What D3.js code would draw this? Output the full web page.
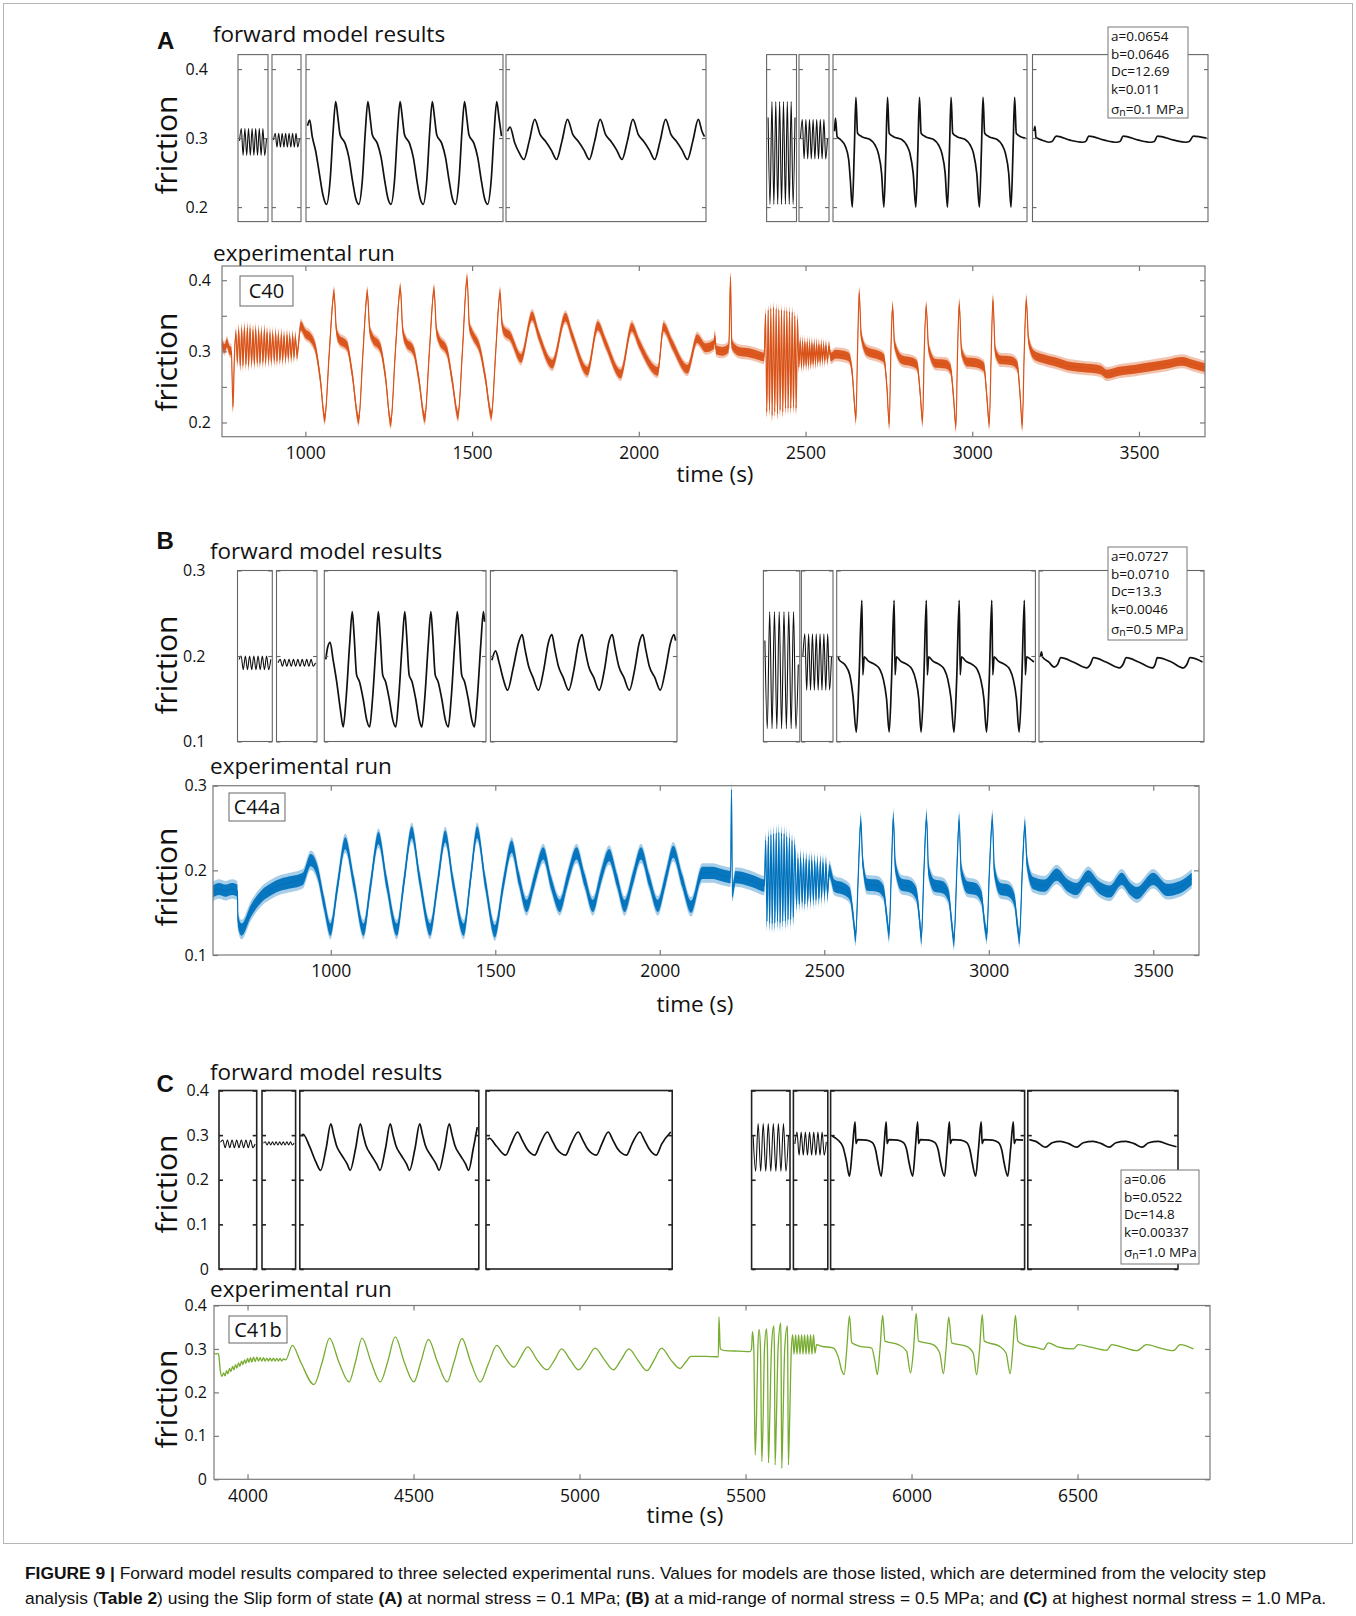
<!DOCTYPE html>
<html>
<head>
<meta charset="utf-8">
<script src="https://cdn.jsdelivr.net/npm/d3@7"></script>
<style>
body { margin: 0; background: #fff; }
svg text { font-family: "Open Sans", sans-serif; fill: #111; }
</style>
</head>
<body>
<svg id="fig" width="1356" height="1616"></svg>
<script>

// ---------- data : forward model traces (friction), one array per sub-box ----------
// plain arrays = equally spaced samples, pairs = [model time (box units), friction]

var modelA1 = [0.296, 0.314, 0.275, 0.314, 0.275, 0.314, 0.275, 0.314, 0.275, 0.314, 0.275, 0.314, 0.275, 0.314, 0.275, 0.300];
var modelA2 = [0.297, 0.307, 0.287, 0.307, 0.287, 0.307, 0.287, 0.307, 0.287, 0.307, 0.287, 0.307, 0.287, 0.307, 0.287, 0.300];
var modelA3 = [[0,0.318],[6,0.326],[13,0.302],[22,0.282],[32,0.25],[42,0.218],[52,0.204],[62,0.24],[70,0.31],[77,0.353],[83,0.33],[89,0.305],[103,0.292],[113,0.272],[123,0.238],[132,0.212],[140,0.204],[150,0.24],[158,0.31],[165,0.353],[171,0.33],[177,0.305],[191,0.292],[201,0.272],[211,0.238],[220,0.212],[228,0.204],[238,0.24],[246,0.31],[253,0.353],[259,0.33],[265,0.305],[279,0.292],[289,0.272],[299,0.238],[308,0.212],[316,0.204],[326,0.24],[334,0.31],[341,0.353],[347,0.33],[353,0.305],[367,0.292],[377,0.272],[387,0.238],[396,0.212],[404,0.204],[414,0.24],[422,0.31],[429,0.353],[435,0.33],[441,0.305],[455,0.292],[465,0.272],[475,0.238],[484,0.212],[492,0.204],[502,0.24],[510,0.31],[517,0.353],[523,0.33],[530,0.303]];
var modelA4 = [[0,0.31],[7,0.316],[20,0.293],[32,0.279],[45,0.269],[60,0.296],[75,0.327],[90,0.305],[105,0.295],[120,0.283],[135,0.269],[150,0.296],[165,0.327],[180,0.305],[195,0.295],[210,0.283],[225,0.269],[240,0.296],[255,0.327],[270,0.305],[285,0.295],[300,0.283],[315,0.269],[330,0.296],[345,0.327],[360,0.305],[375,0.295],[390,0.283],[405,0.269],[420,0.296],[435,0.327],[450,0.305],[465,0.295],[480,0.283],[495,0.269],[510,0.296],[525,0.327],[535,0.31],[542,0.302]];
var modelA5 = [0.33, 0.204, 0.353, 0.204, 0.353, 0.204, 0.353, 0.204, 0.353, 0.204, 0.353, 0.204, 0.353, 0.204, 0.33];
var modelA6 = [0.30, 0.327, 0.27, 0.327, 0.27, 0.327, 0.27, 0.327, 0.27, 0.327, 0.27, 0.327, 0.27, 0.327, 0.27, 0.30];
var modelA7 = [[0,0.31],[3,0.329],[8,0.302],[18,0.298],[33,0.288],[43,0.269],[48,0.24],[54,0.2],[60,0.28],[65,0.359],[70,0.307],[83,0.302],[108,0.298],[123,0.29],[133,0.278],[143,0.249],[150,0.2],[156,0.28],[161,0.359],[166,0.307],[179,0.302],[204,0.298],[219,0.29],[229,0.278],[239,0.249],[247,0.2],[253,0.28],[258,0.359],[263,0.307],[276,0.302],[301,0.298],[316,0.29],[326,0.278],[336,0.249],[343,0.2],[349,0.28],[354,0.359],[359,0.307],[372,0.302],[397,0.298],[412,0.29],[422,0.278],[432,0.249],[440,0.2],[446,0.28],[451,0.359],[456,0.307],[469,0.302],[494,0.298],[509,0.29],[519,0.278],[529,0.249],[536,0.2],[542,0.28],[547,0.359],[552,0.307],[565,0.302],[580,0.3]];
var modelA8 = [[0,0.31],[3,0.317],[6,0.301],[25,0.297],[45,0.294],[55,0.295],[68,0.303],[110,0.297],[148,0.294],[158,0.295],[168,0.303],[215,0.297],[253,0.294],[263,0.295],[273,0.303],[320,0.297],[358,0.294],[368,0.295],[378,0.303],[428,0.297],[465,0.294],[475,0.295],[488,0.303],[528,0.3]];

var modelB1 = [0.196, 0.2, 0.184, 0.2, 0.184, 0.2, 0.184, 0.2, 0.184, 0.2, 0.184, 0.2, 0.184, 0.2, 0.184, 0.196];
var modelB2 = [0.192, 0.196, 0.188, 0.196, 0.188, 0.196, 0.188, 0.196, 0.188, 0.196, 0.188, 0.196, 0.188, 0.196, 0.188, 0.196, 0.188, 0.192];
var modelB3 = [[0,0.196],[5,0.21],[12,0.216],[20,0.196],[30,0.17],[40,0.138],[48,0.117],[56,0.15],[66,0.215],[73,0.252],[78,0.225],[85,0.178],[93,0.17],[103,0.15],[113,0.125],[121,0.117],[129,0.15],[139,0.215],[145,0.252],[150,0.225],[157,0.178],[165,0.17],[175,0.15],[185,0.125],[193,0.117],[201,0.15],[211,0.215],[218,0.252],[223,0.225],[230,0.178],[238,0.17],[248,0.15],[258,0.125],[265,0.117],[273,0.15],[283,0.215],[290,0.252],[295,0.225],[302,0.178],[310,0.17],[320,0.15],[330,0.125],[338,0.117],[346,0.15],[356,0.215],[363,0.252],[368,0.225],[375,0.178],[383,0.17],[393,0.15],[403,0.125],[410,0.117],[418,0.15],[428,0.215],[435,0.252],[438,0.24]];
var modelB4 = [[0,0.195],[10,0.206],[20,0.192],[32,0.172],[43,0.16],[58,0.185],[73,0.215],[83,0.225],[91,0.208],[101,0.188],[113,0.175],[128,0.16],[143,0.185],[155,0.215],[165,0.225],[173,0.208],[183,0.188],[196,0.175],[211,0.16],[226,0.185],[238,0.215],[248,0.225],[256,0.208],[266,0.188],[280,0.175],[295,0.16],[310,0.185],[321,0.215],[331,0.225],[339,0.208],[349,0.188],[363,0.175],[378,0.16],[393,0.185],[405,0.215],[415,0.225],[423,0.208],[433,0.188],[448,0.175],[463,0.16],[478,0.185],[491,0.215],[501,0.225],[505,0.218]];
var modelB5 = [0.218, 0.115, 0.252, 0.115, 0.252, 0.115, 0.252, 0.115, 0.252, 0.115, 0.252, 0.115, 0.252, 0.115, 0.19];
var modelB6 = [0.2, 0.226, 0.16, 0.226, 0.16, 0.226, 0.16, 0.226, 0.16, 0.226, 0.16, 0.226, 0.16, 0.226, 0.16, 0.2];
var modelB7 = [[0,0.2],[2,0.196],[20,0.19],[35,0.178],[45,0.153],[55,0.111],[63,0.17],[72,0.265],[75,0.178],[79,0.199],[92,0.194],[112,0.19],[127,0.184],[137,0.173],[147,0.15],[155,0.111],[162,0.17],[170,0.265],[173,0.178],[177,0.199],[190,0.194],[210,0.19],[225,0.184],[235,0.173],[245,0.15],[252,0.111],[260,0.17],[268,0.265],[271,0.178],[275,0.199],[288,0.194],[308,0.19],[323,0.184],[333,0.173],[343,0.15],[352,0.111],[360,0.17],[368,0.265],[371,0.178],[375,0.199],[388,0.194],[408,0.19],[423,0.184],[433,0.173],[443,0.15],[451,0.111],[459,0.17],[467,0.265],[470,0.178],[474,0.199],[487,0.194],[507,0.19],[522,0.184],[532,0.173],[542,0.15],[550,0.111],[558,0.17],[566,0.265],[569,0.178],[573,0.199],[585,0.196],[595,0.193]];
var modelB8 = [[0,0.2],[3,0.205],[6,0.199],[25,0.193],[42,0.187],[52,0.19],[62,0.198],[100,0.193],[142,0.186],[152,0.19],[162,0.198],[200,0.193],[242,0.186],[252,0.19],[262,0.198],[300,0.193],[342,0.186],[350,0.19],[357,0.198],[400,0.193],[437,0.186],[447,0.19],[457,0.198],[495,0.193]];

var modelC1 = [0.284, 0.289, 0.272, 0.289, 0.272, 0.289, 0.272, 0.289, 0.272, 0.289, 0.272, 0.289, 0.272, 0.289, 0.272, 0.28];
var modelC2 = [0.282, 0.285, 0.278, 0.285, 0.278, 0.285, 0.278, 0.285, 0.278, 0.285, 0.278, 0.285, 0.278, 0.285, 0.278, 0.285, 0.278, 0.282];
var modelC3 = [[0,0.298],[5,0.302],[23,0.274],[40,0.24],[53,0.221],[68,0.27],[81,0.325],[89,0.3],[96,0.278],[111,0.255],[126,0.235],[134,0.221],[149,0.27],[162,0.325],[170,0.3],[177,0.278],[192,0.255],[207,0.235],[216,0.221],[231,0.27],[244,0.325],[252,0.3],[259,0.278],[274,0.255],[289,0.235],[297,0.221],[312,0.27],[325,0.325],[333,0.3],[340,0.278],[355,0.255],[370,0.235],[378,0.221],[393,0.27],[406,0.325],[414,0.3],[421,0.278],[436,0.255],[451,0.235],[459,0.221],[472,0.27],[483,0.318]];
var modelC4 = [[0,0.29],[5,0.293],[25,0.275],[50,0.255],[65,0.28],[83,0.307],[95,0.29],[108,0.27],[120,0.259],[130,0.255],[145,0.28],[165,0.307],[177,0.29],[190,0.27],[203,0.259],[215,0.255],[230,0.28],[250,0.307],[262,0.29],[275,0.27],[288,0.259],[300,0.255],[315,0.28],[333,0.307],[345,0.29],[358,0.27],[371,0.259],[383,0.255],[398,0.28],[420,0.307],[432,0.29],[445,0.27],[456,0.259],[465,0.255],[480,0.28],[505,0.307]];
var modelC5 = [0.3, 0.219, 0.326, 0.219, 0.326, 0.219, 0.326, 0.219, 0.326, 0.219, 0.326, 0.219, 0.326, 0.219, 0.3];
var modelC6 = [0.28, 0.307, 0.255, 0.307, 0.255, 0.307, 0.255, 0.307, 0.255, 0.307, 0.255, 0.307, 0.255, 0.307, 0.255, 0.285];
var modelC7 = [[0,0.298],[18,0.289],[33,0.274],[43,0.244],[53,0.208],[62,0.27],[70,0.33],[73,0.281],[78,0.29],[105,0.289],[123,0.283],[133,0.266],[140,0.238],[150,0.208],[158,0.27],[165,0.33],[168,0.281],[173,0.29],[200,0.289],[218,0.283],[228,0.266],[235,0.238],[246,0.208],[254,0.27],[261,0.33],[264,0.281],[269,0.29],[296,0.289],[314,0.283],[324,0.266],[331,0.238],[343,0.208],[351,0.27],[358,0.33],[361,0.281],[366,0.29],[393,0.289],[411,0.283],[421,0.266],[428,0.238],[438,0.208],[447,0.27],[455,0.33],[458,0.281],[463,0.29],[490,0.289],[508,0.283],[518,0.266],[525,0.238],[536,0.208],[545,0.27],[553,0.33],[556,0.281],[561,0.29],[583,0.289]];
var modelC8 = [[0,0.29],[20,0.286],[50,0.273],[70,0.283],[95,0.286],[120,0.281],[145,0.273],[165,0.283],[195,0.286],[220,0.281],[245,0.273],[265,0.283],[295,0.286],[320,0.281],[345,0.273],[365,0.283],[395,0.286],[425,0.279],[450,0.274]];

// ---------- data : experimental runs [time (s), friction] ----------
var runC40 = [[750,0.31],[758,0.304],[765,0.312],[772,0.302],[778,0.3],[783,0.222],[787,0.29],
[792,0.325],[796,0.285],[800,0.33],[805,0.28],[809,0.332],[813,0.28],[817,0.333],[822,0.282],[826,0.333],[830,0.28],[834,0.332],[839,0.283],[843,0.33],[847,0.282],[851,0.331],[856,0.284],[860,0.33],[864,0.283],[868,0.328],[873,0.285],[877,0.33],[881,0.284],[885,0.327],[890,0.286],[894,0.326],[898,0.285],[902,0.325],[907,0.287],[911,0.326],[915,0.286],[919,0.324],[924,0.288],[928,0.324],[932,0.287],[936,0.322],[941,0.289],[945,0.323],[949,0.29],[953,0.321],[958,0.291],[962,0.322],[966,0.292],[970,0.32],[975,0.295],
[986,0.336],[1000,0.325],[1014,0.32],[1031,0.303],[1045,0.26],[1058,0.206],
[1072,0.3],[1086,0.382],[1093,0.33],[1100,0.318],[1125,0.308],[1140,0.27],[1160,0.204],
[1173,0.3],[1186,0.382],[1193,0.33],[1200,0.32],[1225,0.305],[1240,0.265],[1256,0.2],
[1270,0.3],[1285,0.388],[1292,0.33],[1300,0.315],[1325,0.3],[1340,0.262],[1358,0.206],
[1372,0.3],[1386,0.386],[1393,0.33],[1400,0.318],[1425,0.3],[1440,0.26],[1458,0.21],
[1471,0.3],[1485,0.402],[1492,0.335],[1500,0.325],[1525,0.3],[1540,0.262],[1558,0.21],
[1571,0.3],[1584,0.382],[1590,0.338],[1597,0.328],
[1613,0.322],[1647,0.29],[1680,0.35],[1700,0.322],[1741,0.282],[1780,0.348],[1800,0.322],[1846,0.272],[1877,0.336],[1900,0.312],[1946,0.268],[1979,0.334],[2000,0.312],[2057,0.272],[2074,0.334],[2100,0.31],[2146,0.275],[2175,0.318],[2200,0.305],[2226,0.31],[2228,0.322],[2232,0.302],[2250,0.3],[2270,0.305],[2275,0.404],[2279,0.31],[2300,0.3],[2330,0.298],[2360,0.294],[2376,0.292],
[2380,0.352],[2384,0.215],[2388,0.358],[2392,0.218],[2396,0.36],[2400,0.21],[2404,0.362],[2408,0.215],[2412,0.36],[2416,0.212],[2420,0.358],[2424,0.218],[2428,0.358],[2432,0.215],[2436,0.357],[2440,0.22],[2444,0.357],[2448,0.22],[2452,0.356],[2456,0.22],[2460,0.355],[2464,0.222],[2468,0.35],[2472,0.22],[2476,0.345],[2480,0.278],
[2484,0.314],[2488,0.278],[2491,0.314],[2495,0.279],[2498,0.313],[2502,0.28],[2505,0.313],[2509,0.28],[2512,0.312],[2516,0.281],[2519,0.312],[2523,0.282],[2526,0.311],[2530,0.283],[2533,0.311],[2537,0.284],[2540,0.31],[2544,0.285],[2547,0.31],[2551,0.286],[2554,0.309],[2558,0.287],[2561,0.308],[2566,0.288],[2570,0.307],[2576,0.292],
[2590,0.296],[2610,0.295],[2630,0.292],[2640,0.27],[2647,0.225],[2651,0.205],
[2656,0.3],[2661,0.382],[2667,0.322],[2684,0.3],[2710,0.296],[2735,0.29],[2744,0.25],[2751,0.198],
[2756,0.3],[2761,0.363],[2767,0.31],[2790,0.288],[2820,0.285],[2835,0.28],[2844,0.24],[2851,0.202],
[2856,0.3],[2862,0.362],[2869,0.305],[2890,0.283],[2920,0.282],[2935,0.275],[2944,0.235],[2951,0.195],
[2956,0.3],[2961,0.366],[2968,0.3],[2985,0.285],[3010,0.284],[3035,0.278],[3044,0.235],[3051,0.198],
[3057,0.3],[3062,0.372],[3069,0.3],[3085,0.288],[3115,0.287],[3135,0.28],[3144,0.235],[3150,0.196],
[3156,0.3],[3162,0.372],[3169,0.315],[3185,0.295],[3210,0.29],[3250,0.285],[3284,0.28],[3330,0.277],[3384,0.274],[3404,0.268],[3440,0.272],[3490,0.275],[3530,0.278],[3584,0.282],[3630,0.286],[3660,0.282],[3698,0.277]];

var runC44a = [[642,0.175],[660,0.178],[680,0.176],[700,0.178],[716,0.176],[718,0.14],[729,0.13],[757,0.152],[791,0.17],[820,0.178],[847,0.183],[880,0.186],[915,0.19],[939,0.212],[960,0.198],[980,0.16],[999,0.13],
[1020,0.18],[1044,0.232],[1070,0.185],[1100,0.13],[1120,0.18],[1145,0.238],[1170,0.185],[1201,0.13],[1222,0.185],[1246,0.245],[1270,0.19],[1302,0.13],[1325,0.185],[1348,0.24],[1372,0.185],[1404,0.13],[1425,0.19],[1445,0.245],[1470,0.185],[1499,0.128],
[1525,0.185],[1550,0.228],[1572,0.19],[1595,0.158],[1620,0.19],[1646,0.22],[1670,0.185],[1696,0.158],[1720,0.19],[1747,0.22],[1772,0.188],[1797,0.158],[1820,0.19],[1846,0.218],[1870,0.188],[1893,0.158],[1918,0.19],[1943,0.22],[1968,0.188],[1994,0.158],[2018,0.19],[2041,0.222],[2068,0.188],[2095,0.157],[2129,0.197],[2160,0.197],[2190,0.194],[2215,0.192],[2218,0.295],[2221,0.175],[2230,0.192],[2260,0.19],[2290,0.186],[2318,0.182],
[2322,0.235],[2326,0.14],[2330,0.24],[2334,0.138],[2338,0.242],[2342,0.137],[2346,0.243],[2350,0.138],[2354,0.244],[2358,0.14],[2362,0.245],[2366,0.138],[2370,0.244],[2374,0.14],[2378,0.243],[2382,0.14],[2386,0.24],[2390,0.142],[2394,0.238],[2398,0.142],[2402,0.235],[2406,0.145],[2410,0.23],[2416,0.16],
[2420,0.214],[2424,0.16],[2428,0.215],[2433,0.162],[2437,0.214],[2441,0.16],[2445,0.213],[2450,0.163],[2454,0.212],[2458,0.163],[2462,0.212],[2467,0.165],[2471,0.211],[2475,0.165],[2479,0.21],[2484,0.167],[2488,0.21],[2492,0.168],[2496,0.209],[2501,0.17],[2505,0.208],[2510,0.172],[2515,0.2],
[2530,0.182],[2560,0.178],[2578,0.172],[2588,0.145],[2595,0.122],
[2604,0.2],[2611,0.258],[2617,0.21],[2630,0.183],[2660,0.182],[2680,0.175],[2690,0.145],[2697,0.125],
[2704,0.2],[2710,0.262],[2716,0.205],[2735,0.183],[2760,0.181],[2780,0.172],[2790,0.14],[2795,0.12],
[2803,0.2],[2811,0.262],[2817,0.2],[2835,0.182],[2860,0.18],[2878,0.17],[2888,0.135],[2894,0.117],
[2903,0.2],[2910,0.259],[2916,0.2],[2935,0.18],[2960,0.178],[2978,0.168],[2988,0.135],[2994,0.124],
[3002,0.2],[3011,0.26],[3017,0.2],[3035,0.178],[3060,0.176],[3078,0.165],[3087,0.135],[3093,0.12],
[3102,0.2],[3110,0.253],[3116,0.21],[3135,0.185],[3170,0.182],[3206,0.195],[3240,0.182],[3267,0.178],[3302,0.193],[3335,0.18],[3368,0.175],[3404,0.19],[3430,0.178],[3450,0.173],[3500,0.19],[3541,0.177],[3580,0.18],[3617,0.19]];

var runC41b = [[3899,0.291],[3905,0.288],[3910,0.29],[3913,0.287],[3918,0.25],[3923,0.237],
[3928,0.245],[3932,0.238],[3937,0.25],[3941,0.243],[3946,0.255],[3950,0.248],[3955,0.26],[3959,0.252],[3964,0.264],[3968,0.256],[3973,0.268],[3977,0.26],[3982,0.272],[3986,0.264],[3991,0.275],[3995,0.267],[4000,0.278],[4004,0.269],[4009,0.28],[4013,0.27],[4018,0.281],[4023,0.271],[4028,0.281],[4033,0.272],[4038,0.28],[4043,0.272],[4048,0.28],[4053,0.272],[4058,0.279],[4063,0.272],[4068,0.279],[4073,0.272],[4078,0.279],[4083,0.272],[4088,0.278],[4093,0.272],[4098,0.278],[4103,0.272],[4108,0.277],[4115,0.275],
[4135,0.308],[4160,0.27],[4200,0.218],[4225,0.27],[4247,0.325],[4275,0.27],[4306,0.224],[4325,0.27],[4345,0.325],[4372,0.27],[4400,0.224],[4422,0.27],[4445,0.328],[4472,0.27],[4501,0.224],[4522,0.27],[4545,0.322],[4572,0.27],[4601,0.224],[4622,0.27],[4646,0.324],[4672,0.27],[4701,0.224],[4725,0.265],[4751,0.308],[4776,0.28],[4802,0.258],[4822,0.28],[4844,0.305],[4872,0.275],[4902,0.252],[4925,0.275],[4946,0.3],[4972,0.275],[4997,0.252],[5022,0.275],[5047,0.302],[5075,0.275],[5102,0.252],[5125,0.275],[5149,0.3],[5175,0.275],[5203,0.25],[5225,0.275],[5247,0.302],[5275,0.275],[5303,0.255],[5320,0.27],[5336,0.283],[5380,0.283],[5418,0.282],[5420,0.374],[5424,0.3],[5440,0.296],[5480,0.295],
[5514,0.294],[5518,0.3],[5521,0.34],[5525,0.3],[5529,0.056],[5533,0.14],[5537,0.3],[5541,0.345],[5545,0.3],[5549,0.041],[5553,0.14],[5557,0.3],[5563,0.346],[5566,0.3],[5569,0.038],[5573,0.14],[5578,0.3],[5585,0.353],[5587,0.3],[5589,0.033],[5593,0.14],[5598,0.3],[5606,0.36],[5607,0.3],[5609,0.025],[5613,0.14],[5618,0.3],[5626,0.353],[5627,0.3],[5629,0.033],[5633,0.14],[5638,0.3],
[5642,0.333],[5646,0.288],[5651,0.333],[5655,0.288],[5660,0.333],[5664,0.288],[5669,0.333],[5673,0.288],[5678,0.333],[5682,0.288],[5687,0.333],[5691,0.288],[5696,0.333],[5700,0.288],[5705,0.333],[5709,0.29],[5714,0.31],
[5730,0.306],[5760,0.303],[5768,0.3],[5780,0.28],[5790,0.25],[5797,0.241],[5805,0.3],[5813,0.376],[5820,0.314],[5845,0.306],[5880,0.302],[5890,0.27],[5897,0.241],[5905,0.3],[5913,0.377],[5920,0.318],[5960,0.31],[5985,0.295],[5997,0.245],[6006,0.3],[6014,0.382],[6021,0.318],[6065,0.31],[6085,0.29],[6096,0.243],[6104,0.3],[6112,0.373],[6121,0.314],[6166,0.306],[6186,0.29],[6196,0.241],[6205,0.3],[6213,0.379],[6219,0.318],[6265,0.306],[6285,0.29],[6297,0.243],[6305,0.3],[6313,0.377],[6320,0.318],[6337,0.31],[6377,0.303],[6397,0.299],[6412,0.314],[6440,0.305],[6487,0.3],[6502,0.31],[6540,0.304],[6588,0.297],[6603,0.31],[6640,0.303],[6678,0.296],[6708,0.31],[6750,0.302],[6789,0.296],[6809,0.31],[6849,0.3]];

// ---------- model parameters shown in the legends ----------
var paramsA = ["a=0.0654", "b=0.0646", "Dc=12.69", "k=0.011", "0.1 MPa"];
var paramsB = ["a=0.0727", "b=0.0710", "Dc=13.3", "k=0.0046", "0.5 MPa"];
var paramsC = ["a=0.06", "b=0.0522", "Dc=14.8", "k=0.00337", "1.0 MPa"];

// ---------- tick values ----------
var timeTicksAB = [1000, 1500, 2000, 2500, 3000, 3500];
var timeTicksC = [4000, 4500, 5000, 5500, 6000, 6500];
var frictionTicksA = [0.2, 0.25, 0.3, 0.35, 0.4];
var frictionLabelsA = [0.2, 0.3, 0.4];
var frictionTicksB = [0.1, 0.2, 0.3];
var frictionTicksC = [0, 0.1, 0.2, 0.3, 0.4];
var modelTicksA = [0.2, 0.3, 0.4];

// ---------- layout ----------
var svg = d3.select("#fig");
var fmt = d3.format("~g");

var panels = [
	{
		letter: "A", letterXY: [157, 49],
		model: {
			titleXY: [213, 41.5], top: 54.6, bottom: 221.6, yDomain: [0.179, 0.421],
			ticks: modelTicksA, labels: modelTicksA, labelPad: 30, frictionY: 145,
			boxes: [[238,268],[272,301],[306,503],[506,706],[766.6,796.5],[799,829],[833,1027],[1032.5,1208]],
			traces: [modelA1, modelA2, modelA3, modelA4, modelA5, modelA6, modelA7, modelA8],
			frame: "#666", frameW: 1.1,
			legend: { x: 1108, y: 27, w: 80, h: 91, lines: paramsA }
		},
		run: {
			titleXY: [213, 260.5], left: 222, right: 1205, top: 266, bottom: 436.7,
			xDomain: [750, 3698], yDomain: [0.18, 0.42],
			xTicks: timeTicksAB, yTicks: frictionTicksA, yLabels: frictionLabelsA, yPad: 11,
			frictionY: 362, timeXY: [715, 482],
			data: runC40, color: "#d95319", noise: 0.0062,
			tag: { text: "C40", x: 240, y: 276, w: 53, h: 30 }
		}
	},
	{
		letter: "B", letterXY: [156.6, 549],
		model: {
			titleXY: [210, 559], top: 570.5, bottom: 741.5, yDomain: [0.1, 0.3],
			ticks: frictionTicksB, labels: frictionTicksB, labelPad: 32, frictionY: 665,
			boxes: [[237.5,272.3],[276.5,317],[324.3,486],[490.4,677],[763.4,799.8],[801.4,833],[836.7,1035.4],[1039,1204]],
			traces: [modelB1, modelB2, modelB3, modelB4, modelB5, modelB6, modelB7, modelB8],
			frame: "#666", frameW: 1.1,
			legend: { x: 1108, y: 547, w: 79, h: 93, lines: paramsB }
		},
		run: {
			titleXY: [210, 774], left: 213, right: 1199, top: 785.7, bottom: 955,
			xDomain: [642, 3639], yDomain: [0.1, 0.3],
			xTicks: timeTicksAB, yTicks: frictionTicksB, yLabels: frictionTicksB, yPad: 6,
			frictionY: 877, timeXY: [695, 1012],
			data: runC44a, color: "#0072bd", noise: 0.0072,
			tag: { text: "C44a", x: 229, y: 793, w: 56, h: 28 }
		}
	},
	{
		letter: "C", letterXY: [156.6, 1092],
		model: {
			titleXY: [210, 1080], top: 1090.5, bottom: 1269, yDomain: [0, 0.4],
			ticks: frictionTicksC, labels: frictionTicksC, labelPad: 10, frictionY: 1184,
			boxes: [[219,256.7],[262,295.6],[299.8,478.8],[486,672.2],[751.6,790],[793.4,827.8],[830.6,1024.6],[1027.8,1178]],
			traces: [modelC1, modelC2, modelC3, modelC4, modelC5, modelC6, modelC7, modelC8],
			frame: "#222", frameW: 1.6,
			legend: { x: 1121, y: 1170, w: 78, h: 94, lines: paramsC }
		},
		run: {
			titleXY: [210, 1296.5], left: 214, right: 1210, top: 1305.5, bottom: 1479.3,
			xDomain: [3899, 6899], yDomain: [0, 0.4],
			xTicks: timeTicksC, yTicks: frictionTicksC, yLabels: frictionTicksC, yPad: 7,
			frictionY: 1399, timeXY: [685, 1523],
			data: runC41b, color: "#77ac30", noise: 0.0012,
			tag: { text: "C41b", x: 229, y: 1316, w: 58, h: 27 }
		}
	}
];

// outer frame of the figure
svg.append("rect")
	.attr("x", 3.5).attr("y", 3.5).attr("width", 1349).attr("height", 1540)
	.attr("fill", "none").attr("stroke", "#b5b5b5").attr("stroke-width", 1);

panels.forEach(function(panel) {

	svg.append("text")
		.attr("x", panel.letterXY[0]).attr("y", panel.letterXY[1])
		.style("font-family", "'Liberation Sans', Arial, sans-serif")
		.style("font-weight", "bold").style("font-size", "24px")
		.text(panel.letter);

	drawModelRow(panel.model);
	drawRun(panel.run);

});

function frictionLabel(x, y) {

	svg.append("text")
		.attr("transform", "translate(" + x + "," + y + ") rotate(-90)")
		.attr("text-anchor", "middle")
		.style("font-size", "30px")
		.text("friction");

}

function styleAxis(g, fontSize) {

	g.select(".domain").remove();
	g.attr("font-family", null).attr("font-size", null);
	g.selectAll("text").style("font-size", fontSize + "px").style("fill", "#111");

}

function drawModelRow(row) {

	var y = d3.scaleLinear().domain(row.yDomain).range([row.bottom, row.top]);
	var g = svg.append("g");

	g.append("text")
		.attr("x", row.titleXY[0]).attr("y", row.titleXY[1])
		.style("font-size", "22.5px")
		.text("forward model results");

	frictionLabel(177, row.frictionY);

	row.boxes.forEach(function(box, i) {

		var trace = row.traces[i];
		var dense = typeof trace[0] === "number";
		var pts = dense ? trace.map(function(f, j) { return [j, f]; }) : trace;

		var x = d3.scaleLinear()
			.domain(d3.extent(pts, function(d) { return d[0]; }))
			.range([box[0] + 1.5, box[1] - 1.5]);

		var line = d3.line()
			.x(function(d) { return x(d[0]); })
			.y(function(d) { return y(d[1]); })
			.curve(d3.curveMonotoneX);

		g.append("path")
			.attr("d", line(pts))
			.attr("fill", "none")
			.attr("stroke", "#111")
			.attr("stroke-width", dense ? 1.1 : 1.7);

		g.append("rect")
			.attr("x", box[0]).attr("y", row.top)
			.attr("width", box[1] - box[0]).attr("height", row.bottom - row.top)
			.attr("fill", "none")
			.attr("stroke", row.frame).attr("stroke-width", row.frameW);

		var left = g.append("g")
			.attr("transform", "translate(" + box[0] + ",0)")
			.call(d3.axisLeft(y).tickValues(row.ticks).tickSize(-4)
				.tickPadding(row.labelPad)
				.tickFormat(i === 0 ? fmt : ""));
		styleAxis(left, 16);
		left.selectAll("line").attr("stroke", row.frame).attr("stroke-width", row.frameW);

		var right = g.append("g")
			.attr("transform", "translate(" + box[1] + ",0)")
			.call(d3.axisRight(y).tickValues(row.ticks).tickSize(-4).tickFormat(""));
		styleAxis(right, 16);
		right.selectAll("line").attr("stroke", row.frame).attr("stroke-width", row.frameW);

	});

	var lg = row.legend;
	var leg = g.append("g").attr("transform", "translate(" + lg.x + "," + lg.y + ")");

	leg.append("rect")
		.attr("width", lg.w).attr("height", lg.h)
		.attr("fill", "#fff").attr("stroke", "#777").attr("stroke-width", 1);

	lg.lines.forEach(function(s, i) {

		var t = leg.append("text")
			.attr("x", 3)
			.attr("y", 14 + i * 17.6 + (i === 4 ? 3 : 0))
			.style("font-size", "13.5px");

		if (i === 4) {
			t.append("tspan").text("σ");
			t.append("tspan").attr("dy", 2).style("font-size", "10.5px").text("n");
			t.append("tspan").attr("dy", -2).text("=" + s);
		} else {
			t.text(s);
		}

	});

}

function drawRun(run) {

	var x = d3.scaleLinear().domain(run.xDomain).range([run.left, run.right]);
	var y = d3.scaleLinear().domain(run.yDomain).range([run.bottom, run.top]);
	var g = svg.append("g");

	g.append("text")
		.attr("x", run.titleXY[0]).attr("y", run.titleXY[1])
		.style("font-size", "22.5px")
		.text("experimental run");

	frictionLabel(177, run.frictionY);

	g.append("text")
		.attr("x", run.timeXY[0]).attr("y", run.timeXY[1])
		.attr("text-anchor", "middle")
		.style("font-size", "22.5px")
		.text("time (s)");

	// soft outer halo + solid band for the sensor noise, then the trace itself
	function band(k) {
		return d3.area()
			.x(function(d) { return x(d[0]); })
			.y0(function(d) { return y(d[1] - run.noise * k); })
			.y1(function(d) { return y(d[1] + run.noise * k); })
			.curve(d3.curveMonotoneX);
	}

	var line = d3.line()
		.x(function(d) { return x(d[0]); })
		.y(function(d) { return y(d[1]); })
		.curve(d3.curveMonotoneX);

	if (run.noise > 0.002) {
		g.append("path")
			.attr("d", band(1.6)(run.data))
			.attr("fill", run.color)
			.attr("opacity", 0.35);
		g.append("path")
			.attr("d", band(1)(run.data))
			.attr("fill", run.color)
			.attr("opacity", 0.95);
	}

	g.append("path")
		.attr("d", line(run.data))
		.attr("fill", "none")
		.attr("stroke", run.color)
		.attr("stroke-width", run.noise > 0.002 ? 1.2 : 1.3);

	g.append("rect")
		.attr("x", run.left).attr("y", run.top)
		.attr("width", run.right - run.left).attr("height", run.bottom - run.top)
		.attr("fill", "none").attr("stroke", "#7a7a7a").attr("stroke-width", 1.2);

	var bottom = g.append("g")
		.attr("transform", "translate(0," + run.bottom + ")")
		.call(d3.axisBottom(x).tickValues(run.xTicks).tickSize(-5).tickPadding(10).tickFormat(d3.format("d")));
	styleAxis(bottom, 17.5);

	var top = g.append("g")
		.attr("transform", "translate(0," + run.top + ")")
		.call(d3.axisTop(x).tickValues(run.xTicks).tickSize(-5).tickFormat(""));
	styleAxis(top, 17.5);

	var left = g.append("g")
		.attr("transform", "translate(" + run.left + ",0)")
		.call(d3.axisLeft(y).tickValues(run.yTicks).tickSize(-5).tickPadding(run.yPad)
			.tickFormat(function(d) { return run.yLabels.indexOf(d) >= 0 ? fmt(d) : ""; }));
	styleAxis(left, 16);

	var right = g.append("g")
		.attr("transform", "translate(" + run.right + ",0)")
		.call(d3.axisRight(y).tickValues(run.yTicks).tickSize(-5).tickFormat(""));
	styleAxis(right, 16);

	g.selectAll(".tick line").attr("stroke", "#7a7a7a").attr("stroke-width", 1.2);

	var tag = run.tag;
	g.append("rect")
		.attr("x", tag.x).attr("y", tag.y).attr("width", tag.w).attr("height", tag.h)
		.attr("fill", "#fff").attr("stroke", "#666").attr("stroke-width", 1);

	g.append("text")
		.attr("x", tag.x + tag.w / 2).attr("y", tag.y + tag.h / 2 + 7)
		.attr("text-anchor", "middle")
		.style("font-size", "20px")
		.text(tag.text);

}

// caption
var caption = svg.append("text")
	.style("font-family", "'Liberation Sans', Arial, sans-serif")
	.style("font-size", "17.4px").style("fill", "#111");

var cap1 = caption.append("tspan").attr("x", 25).attr("y", 1579);
cap1.append("tspan").style("font-weight", "bold").text("FIGURE 9 | ");
cap1.append("tspan").text("Forward model results compared to three selected experimental runs. Values for models are those listed, which are determined from the velocity step");

var cap2 = caption.append("tspan").attr("x", 25).attr("y", 1604);
[["analysis (", false], ["Table 2", true], [") using the Slip form of state ", false], ["(A)", true],
 [" at normal stress = 0.1 MPa; ", false], ["(B)", true], [" at a mid-range of normal stress = 0.5 MPa; and ", false],
 ["(C)", true], [" at highest normal stress = 1.0 MPa.", false]].forEach(function(part) {
	cap2.append("tspan").style("font-weight", part[1] ? "bold" : null).text(part[0]);
});

</script>
</body>
</html>
